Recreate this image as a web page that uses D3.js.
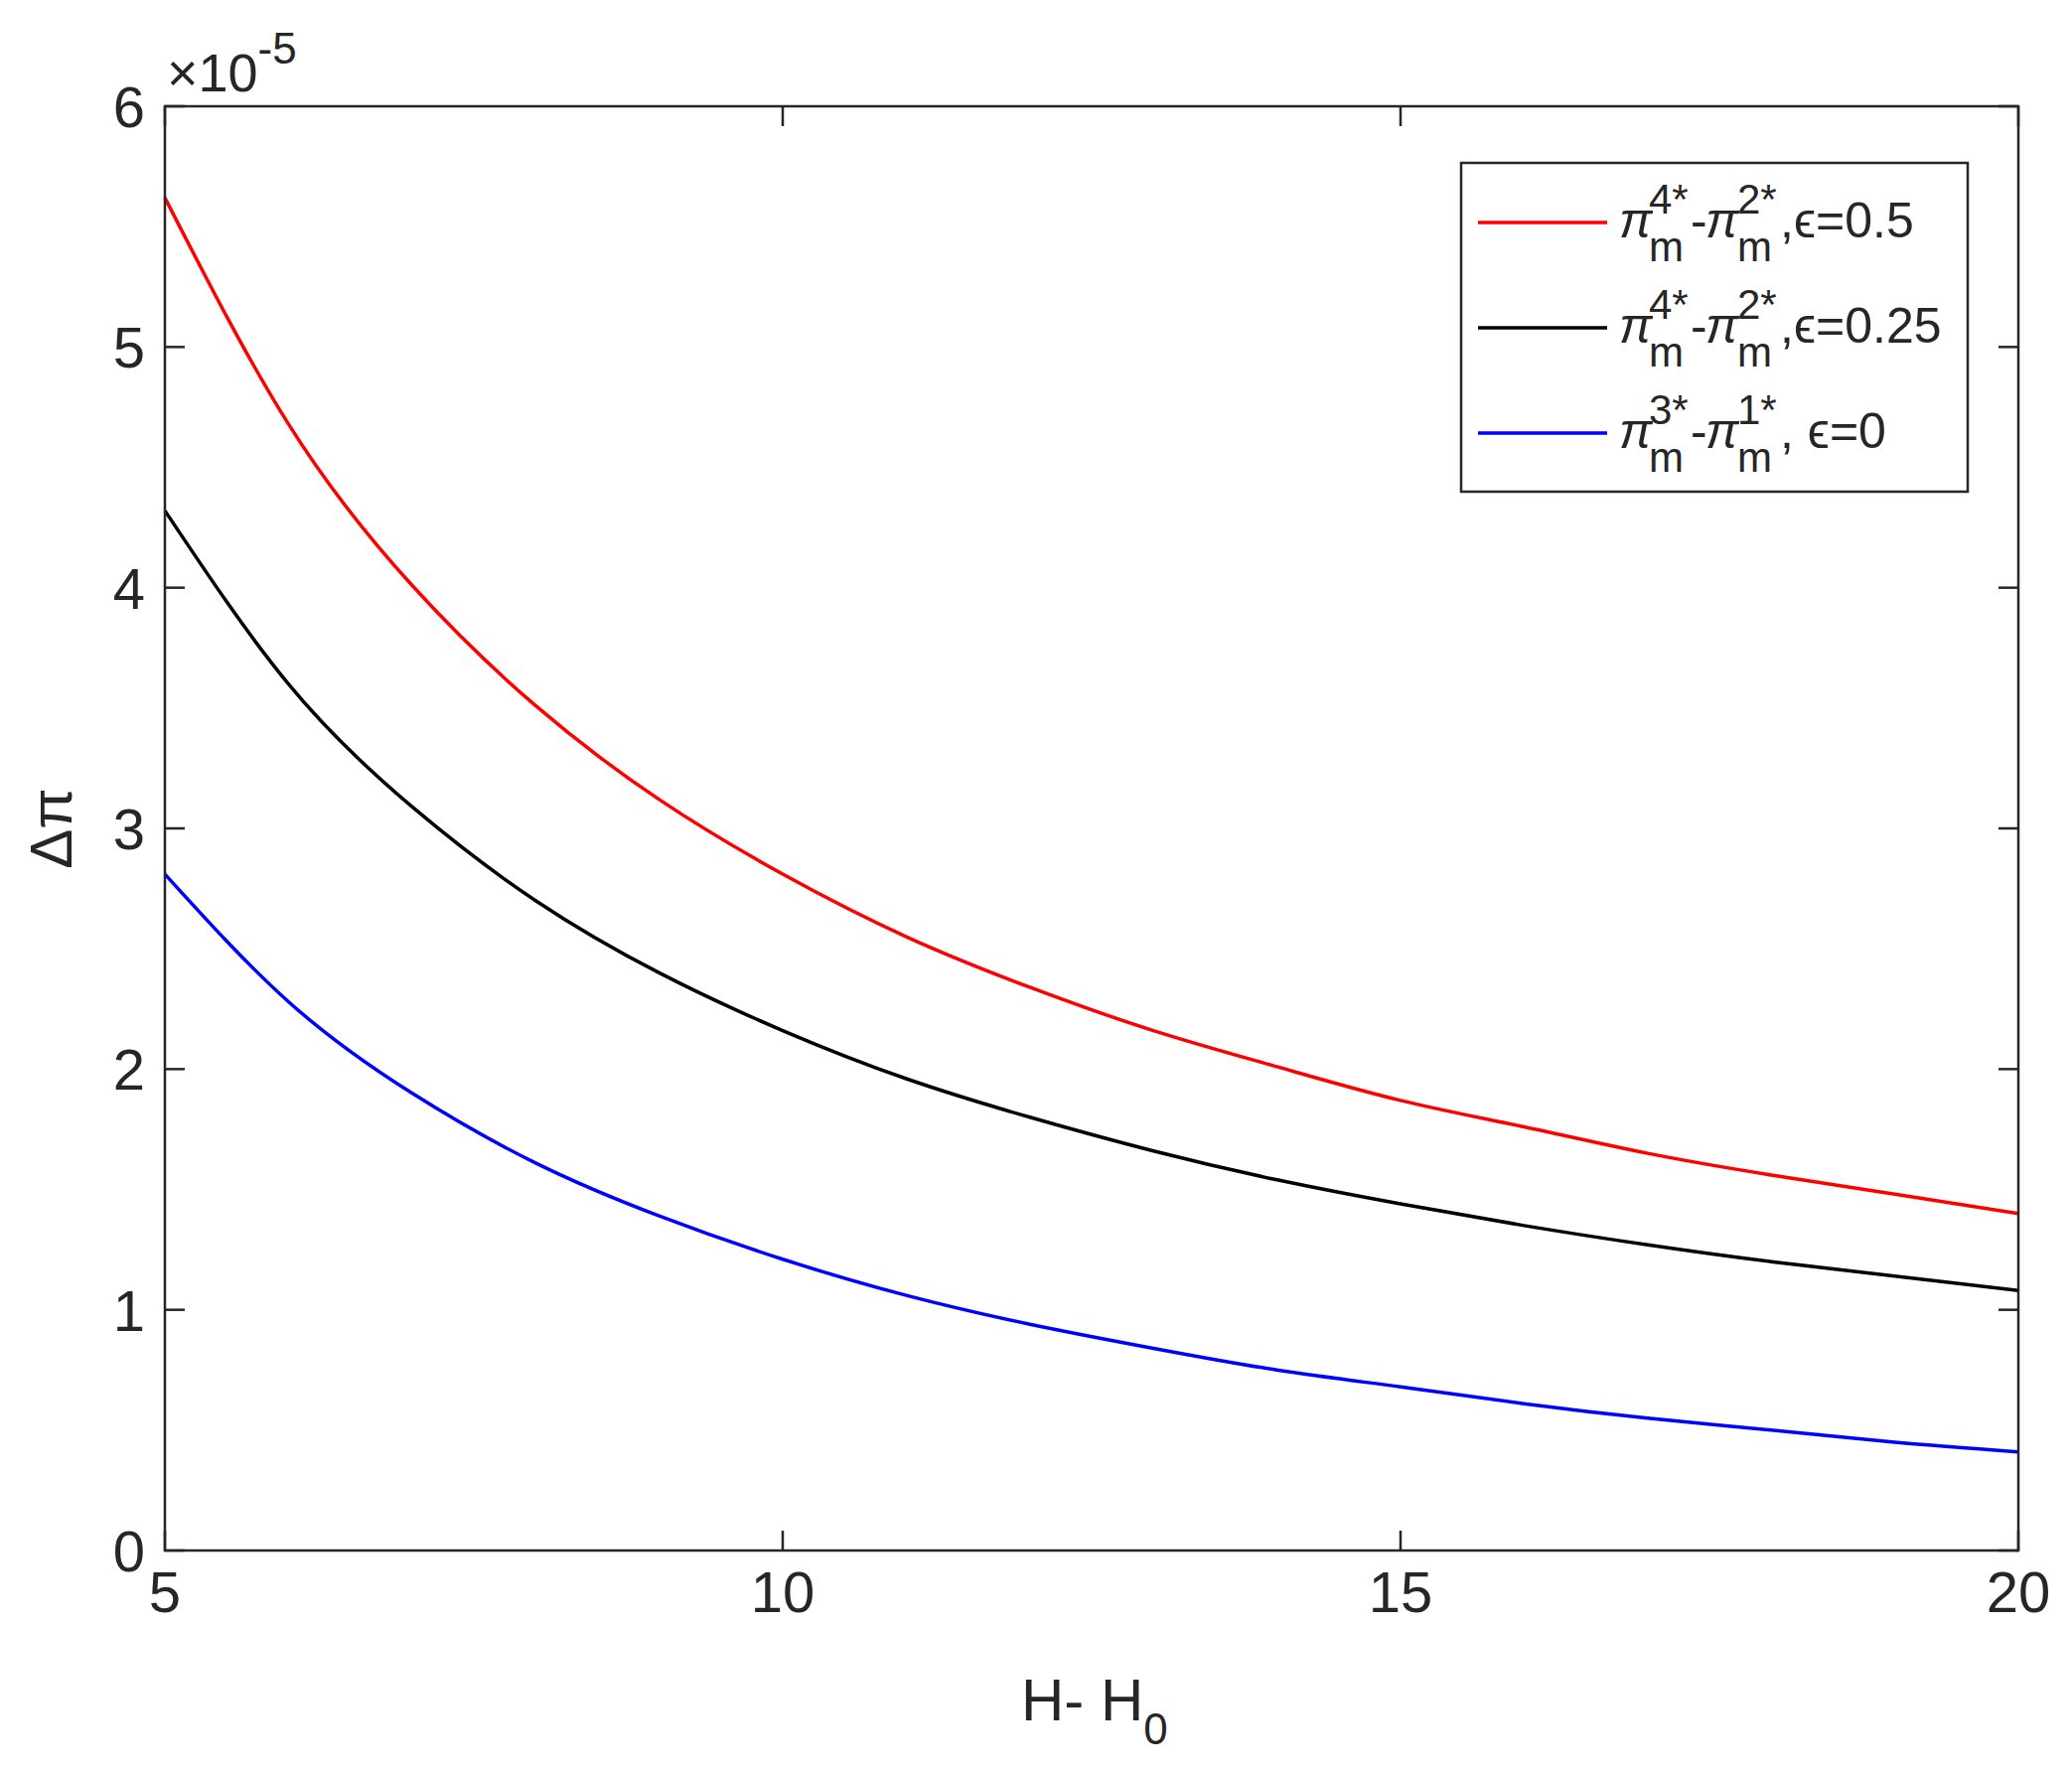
<!DOCTYPE html>
<html><head><meta charset="utf-8">
<script src="https://cdn.jsdelivr.net/npm/d3@7"></script>
<style>body{margin:0;background:#fff}text{font-family:"Liberation Sans Narrow","Liberation Sans",Arial,sans-serif;fill:#262626}</style>
</head><body><svg id="c" width="2086" height="1785"></svg>
<script>
// values are in units of 1e-5
const xs = [5,6,7,8,9,10,11,12,13,14,15,16,17,18,19,20];
const red = [5.62,4.68,4.01,3.51,3.12,2.81,2.55,2.34,2.16,2.01,1.87,1.76,1.65,1.56,1.48,1.40];
const black = [4.32,3.60,3.09,2.70,2.40,2.16,1.96,1.80,1.66,1.54,1.44,1.35,1.27,1.20,1.14,1.08];
const blue = [2.81,2.28,1.90,1.61,1.39,1.21,1.06,0.94,0.84,0.75,0.68,0.61,0.55,0.50,0.45,0.41];
const xTicks = [5,10,15,20];
const yTicks = [0,1,2,3,4,5,6];
const series = [
  {vals: red, color: "#ff0000", sup: ["4*","2*"], tail: ",\u03F5=0.5", epsX: 1810},
  {vals: black, color: "#000000", sup: ["4*","2*"], tail: ",\u03F5=0.25", epsX: 1810},
  {vals: blue, color: "#0000ff", sup: ["3*","1*"], tail: ", \u03F5=0", epsX: 1810}
];

const L = 166, R = 2032, T = 107, B = 1561;
const svg = d3.select("#c");
const x = d3.scaleLinear().domain([5,20]).range([L,R]);
const y = d3.scaleLinear().domain([0,6]).range([B,T]);

const line = d3.line().x((d,i) => x(xs[i])).y(d => y(d)).curve(d3.curveNatural);
series.forEach(s => {
  svg.append("path").attr("d", line(s.vals)).attr("fill","none")
    .attr("stroke", s.color).attr("stroke-width", 3.5);
});

// axes, ticks inward on all sides
const ax = svg.append("g").attr("stroke","#262626").attr("stroke-width",2.5);
xTicks.forEach(t => {
  ax.append("line").attr("x1",x(t)).attr("x2",x(t)).attr("y1",B).attr("y2",B-20);
  ax.append("line").attr("x1",x(t)).attr("x2",x(t)).attr("y1",T).attr("y2",T+20);
  svg.append("text").attr("x",x(t)).attr("y",B+62).attr("text-anchor","middle")
    .attr("font-size",58).text(t);
});
yTicks.forEach(t => {
  ax.append("line").attr("x1",L).attr("x2",L+20).attr("y1",y(t)).attr("y2",y(t));
  ax.append("line").attr("x1",R).attr("x2",R-20).attr("y1",y(t)).attr("y2",y(t));
  svg.append("text").attr("x",L-20).attr("y",y(t)+21).attr("text-anchor","end")
    .attr("font-size",58).text(t);
});
ax.append("rect").attr("x",L).attr("y",T).attr("width",R-L).attr("height",B-T).attr("fill","none");

// exponent
const ex = svg.append("text").attr("x",168).attr("y",92).attr("font-size",54);
ex.append("tspan").text("\u00D710");
ex.append("tspan").attr("dy",-28).attr("font-size",44).text("-5");

// axis labels
const xl = svg.append("text").attr("x",1028).attr("y",1732).attr("font-size",60);
xl.append("tspan").text("H- H");
xl.append("tspan").attr("dy",24).attr("font-size",44).text("0");
svg.append("text").attr("transform","translate(72,"+((T+B)/2)+") rotate(-90)")
  .attr("text-anchor","middle").attr("font-size",60).text("\u0394\u03C0");

// legend
const lg = svg.append("g");
lg.append("rect").attr("x",1471).attr("y",164).attr("width",510).attr("height",331)
  .attr("fill","#fff").attr("stroke","#262626").attr("stroke-width",2.5);
series.forEach((s,i) => {
  const cy = 224 + i*106, base = cy + 15;
  lg.append("line").attr("x1",1488).attr("x2",1618).attr("y1",cy).attr("y2",cy)
    .attr("stroke",s.color).attr("stroke-width",3.5);
  const txt = (xp, yp, fs, str, it) => lg.append("text").attr("x",xp).attr("y",yp)
    .attr("font-size",fs).attr("fill","#000").attr("font-style", it ? "italic" : null).text(str);
  txt(1630, base, 50, "\u03C0", true);
  txt(1660, base - 24, 42, s.sup[0]);
  txt(1660, base + 24, 42, "m");
  txt(1702, base, 50, "-");
  txt(1717, base, 50, "\u03C0", true);
  txt(1749, base - 24, 42, s.sup[1]);
  txt(1749, base + 24, 42, "m");
  txt(1792, base, 50, s.tail);
});
</script></body></html>
